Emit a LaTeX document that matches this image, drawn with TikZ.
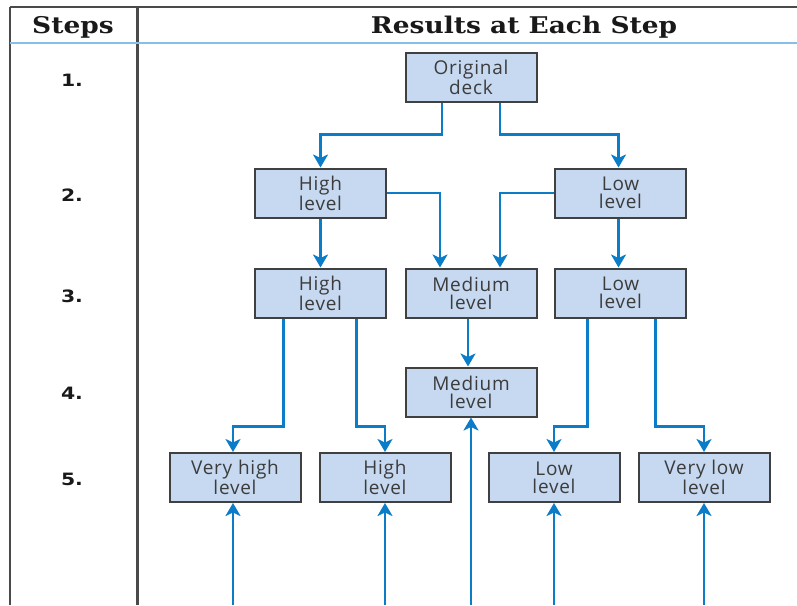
\documentclass[tikz,border=0pt]{standalone}
\usepackage{fontspec}
\setmainfont{DejaVu Serif}
\newfontfamily\headfont[FakeStretch=1.15]{DejaVu Serif}
\newfontfamily\boxfont[LetterSpace=4]{Open Sans}
\newfontfamily\stepfont[FakeStretch=1.2]{DejaVu Sans}
\usetikzlibrary{arrows.meta}
\definecolor{flowblue}{HTML}{0A7CC8}
\definecolor{boxfill}{HTML}{C6D9F0}
\definecolor{boxline}{HTML}{404040}
\definecolor{textgray}{HTML}{3C3C3C}
\definecolor{ruleblue}{HTML}{86C0EA}
\definecolor{framegray}{HTML}{4A4A4A}
\tikzset{
  levelbox/.style={draw=boxline, line width=2pt, fill=boxfill, minimum width=131pt,
    minimum height=49pt, inner sep=0pt, align=center, text=textgray,
    font=\boxfont\fontsize{19}{18}\selectfont},
  flow/.style={draw=flowblue, line width=2.8pt, -{Stealth[length=13pt,width=15pt,inset=3.5pt]}},
  stepnum/.style={font=\stepfont\bfseries\fontsize{17}{19}\selectfont, text=black!90},
  header/.style={font=\headfont\bfseries\fontsize{23}{26}\selectfont, text=black!90}
}
\begin{document}
\begin{tikzpicture}[x=1pt, y=-1pt]
\useasboundingbox (0,0) rectangle (797,605);
% frame
\draw[framegray, line width=2pt] (10,7) -- (797,7);
\draw[framegray, line width=2pt] (10,7) -- (10,605);
\draw[framegray, line width=3pt] (137,7) -- (137,605);
\draw[ruleblue, line width=2pt] (10,43) -- (797,43);
% headers
\node[header] (hsteps) at (73,27) {Steps};
\node[header] (hres) at (524,27) {Results at Each Step};
% step numbers
\node[stepnum] (s1) at (72,80) {1.};
\node[stepnum] (s2) at (72,195) {2.};
\node[stepnum] (s3) at (72,296) {3.};
\node[stepnum] (s4) at (72,393) {4.};
\node[stepnum] (s5) at (72,479) {5.};
% boxes
\node[levelbox] (orig) at (471,77) {Original\\deck};
\node[levelbox] (hi2) at (320.5,193) {High\\level};
\node[levelbox] (lo2) at (620.5,193) {Low\\level};
\node[levelbox] (hi3) at (320.5,293) {High\\level};
\node[levelbox] (med3) at (471,293) {Medium\\level};
\node[levelbox] (lo3) at (620.5,293) {Low\\level};
\node[levelbox] (med4) at (471,392) {Medium\\level};
\node[levelbox] (vh5) at (235,477.5) {Very high\\level};
\node[levelbox] (hi5) at (385,477.5) {High\\level};
\node[levelbox] (lo5) at (554,477.5) {Low\\level};
\node[levelbox] (vl5) at (704,477.5) {Very low\\level};
% bottom free ends
\coordinate (bvh) at (vh5.south |- 0,605);
\coordinate (bhi) at (hi5.south |- 0,605);
\coordinate (bmed) at (med4.south |- 0,605);
\coordinate (blo) at (lo5.south |- 0,605);
\coordinate (bvl) at (vl5.south |- 0,605);
% connectors
\draw[flow] ([xshift=-29pt]orig.south) -- ++(0,32) -| (hi2.north);
\draw[flow] ([xshift=29pt]orig.south) -- ++(0,32) -| ([xshift=-2pt]lo2.north);
\draw[flow] (hi2.east) -| ([xshift=-31pt]med3.north);
\draw[flow] (lo2.west) -| ([xshift=29pt]med3.north);
\draw[flow] (hi2.south) -- (hi3.north);
\draw[flow] ([xshift=-2pt]lo2.south) -- ([xshift=-2pt]lo3.north);
\draw[flow] ([xshift=-3pt]med3.south) -- ([xshift=-3pt]med4.north);
\draw[flow] ([xshift=-37pt]hi3.south) -- ++(0,108) -| ([xshift=-2pt]vh5.north);
\draw[flow] ([xshift=36pt]hi3.south) -- ++(0,108) -| (hi5.north);
\draw[flow] ([xshift=-33pt]lo3.south) -- ++(0,108) -| (lo5.north);
\draw[flow] ([xshift=35pt]lo3.south) -- ++(0,108) -| (vl5.north);
\draw[flow] ([xshift=-2pt]bvh) -- ([xshift=-2pt]vh5.south);
\draw[flow] (bhi) -- (hi5.south);
\draw[flow] (bmed) -- (med4.south);
\draw[flow] (blo) -- (lo5.south);
\draw[flow] (bvl) -- (vl5.south);
\end{tikzpicture}
\end{document}
